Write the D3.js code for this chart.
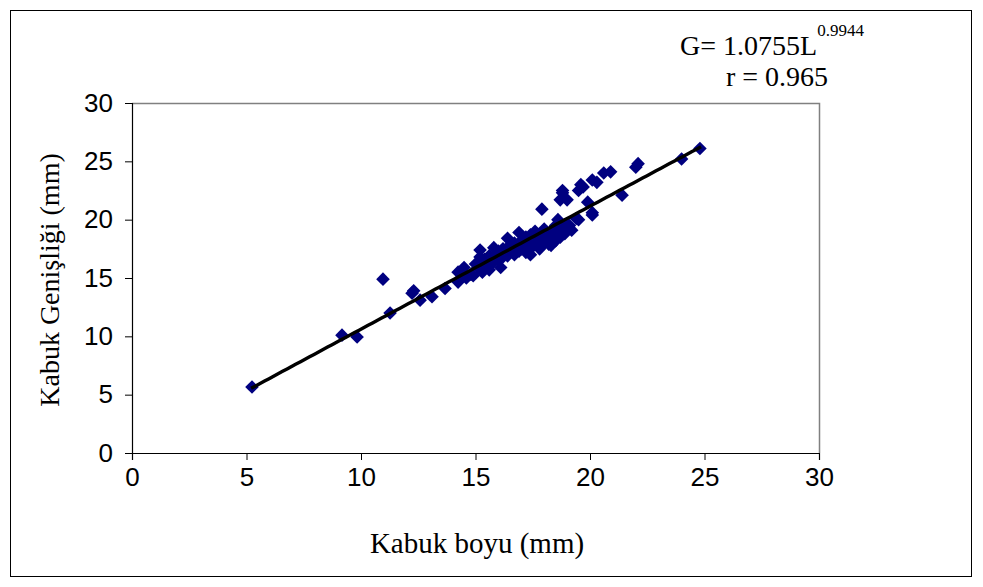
<!DOCTYPE html>
<html>
<head>
<meta charset="utf-8">
<script src="https://cdn.jsdelivr.net/npm/d3@7"></script>
<style>
  html, body { margin: 0; padding: 0; background: #fff; }
  svg { display: block; }
</style>
</head>
<body>
<svg id="chart" width="983" height="587"></svg>
<script>
// ---- data ----
const lengths = [
  5.24, 9.17, 9.83, 10.96, 11.27, 12.23, 12.3, 12.58, 13.1, 13.67, 14.24, 14.24,
  14.4, 14.5, 14.6, 14.8, 14.9, 15.0, 15.1, 15.2, 15.2, 15.3, 15.3, 15.4, 15.5,
  15.6, 15.6, 15.7, 15.8, 15.8, 15.9, 16.0, 16.0, 16.1, 16.2, 16.2, 16.3, 16.4,
  16.4, 16.5, 16.5, 16.6, 16.7, 16.7, 16.8, 16.9, 16.9, 17.0, 17.0, 17.1, 17.2,
  17.2, 17.3, 17.4, 17.4, 17.5, 17.5, 17.6, 17.7, 17.8, 17.8, 17.9, 18.0, 18.0,
  18.1, 18.2, 18.3, 18.3, 18.4, 18.5, 18.5, 18.6, 18.6, 18.7, 18.8, 18.9, 19.0,
  19.1, 19.2, 19.4, 19.5,
  17.9, 18.7, 18.8, 18.8, 19.0, 19.5, 19.6, 19.7, 19.9, 20.1, 20.1, 20.1, 20.3,
  20.6, 20.9, 21.4, 22.0, 22.1, 24.0, 24.8
];
const widths = [
  5.66, 10.1, 9.94, 14.9, 12.0, 13.7, 13.9, 13.1, 13.4, 14.1, 15.5, 14.65,
  15.2, 15.9, 15.0, 15.3, 15.2, 16.2, 15.9, 16.8, 17.4, 15.5, 16.3, 16.6, 16.0,
  15.7, 16.9, 16.2, 17.6, 16.5, 17.0, 16.6, 17.3, 15.9, 16.8, 17.5, 17.1, 18.4,
  16.9, 17.8, 17.2, 17.4, 18.0, 17.0, 17.6, 18.9, 17.3, 18.2, 17.5, 17.8, 18.5,
  17.2, 18.0, 17.0, 18.7, 17.7, 18.3, 19.0, 17.9, 18.5, 17.5, 18.2, 19.2, 18.0,
  18.7, 17.9, 17.8, 19.0, 18.4, 19.5, 18.2, 18.9, 20.0, 18.5, 19.3, 18.8, 19.6,
  19.5, 19.1, 20.1, 20.0,
  20.9, 21.7, 22.3, 22.5, 21.7, 22.5, 23.0, 22.8, 21.5, 20.6, 20.4, 23.4, 23.2,
  24.0, 24.1, 22.1, 24.5, 24.8, 25.2, 26.1
];
const xTicks = [0, 5, 10, 15, 20, 25, 30];
const yTicks = [0, 5, 10, 15, 20, 25, 30];
const fitA = 1.0755, fitB = 0.9944;          // printed power-law fit
const fitRange = [5.2, 24.85];
const xTitle = "Kabuk boyu (mm)";
const yTitle = "Kabuk Genişliği (mm)";

// ---- layout ----
const svg = d3.select("#chart");
const L = 132, R = 819, T = 103, B = 453;
const x = d3.scaleLinear().domain([0, 30]).range([L, R]);
const y = d3.scaleLinear().domain([0, 30]).range([B, T]);

// outer border
svg.append("rect").attr("x", 10.5).attr("y", 10.5).attr("width", 961).attr("height", 566)
  .attr("fill", "none").attr("stroke", "#000").attr("stroke-width", 1);

// plot area border (gray top/right)
svg.append("path")
  .attr("d", `M${L},${T + 0.5}H${R + 0.5}V${B}`)
  .attr("fill", "none").attr("stroke", "#808080").attr("stroke-width", 1.5);

// axes
const xAxis = svg.append("g").attr("transform", `translate(0,${B})`)
  .call(d3.axisBottom(x).tickValues(xTicks).tickSize(7).tickPadding(8).tickFormat(d3.format("d")));
const yAxis = svg.append("g").attr("transform", `translate(${L},0)`)
  .call(d3.axisLeft(y).tickValues(yTicks).tickSize(7).tickPadding(12).tickFormat(d3.format("d")));
[xAxis, yAxis].forEach(g => {
  g.selectAll("path.domain").attr("stroke", "#000").attr("stroke-width", 1.2);
  g.selectAll(".tick line").attr("stroke", "#000").attr("stroke-width", 1);
  g.selectAll(".tick text").attr("fill", "#000")
    .style("font-family", "'Liberation Sans', Arial, sans-serif").style("font-size", "26px");
});

// trend line
const fitPts = d3.range(0, 101).map(i => {
  const xv = fitRange[0] + (fitRange[1] - fitRange[0]) * i / 100;
  return [xv, fitA * Math.pow(xv, fitB)];
});

// points (diamonds)
const pts = lengths.map((v, i) => [v, widths[i]]);
svg.append("g").selectAll("path").data(pts).join("path")
  .attr("transform", d => `translate(${x(d[0])},${y(d[1])})`)
  .attr("d", "M0,-6.8L6.8,0L0,6.8L-6.8,0Z")
  .attr("fill", "#000080");

svg.append("path").datum(fitPts)
  .attr("d", d3.line().x(d => x(d[0])).y(d => y(d[1])))
  .attr("fill", "none").attr("stroke", "#000").attr("stroke-width", 3.4);

// axis titles
const serif = "'Liberation Serif', 'Times New Roman', serif";
svg.append("text").attr("x", 477).attr("y", 553)
  .attr("text-anchor", "middle").style("font-family", serif).style("font-size", "29px")
  .text(xTitle);
svg.append("text").attr("transform", `translate(59,280) rotate(-90)`)
  .attr("text-anchor", "middle").style("font-family", serif).style("font-size", "28px")
  .text(yTitle);

// equation
const eq = svg.append("text").attr("x", 680).attr("y", 55)
  .style("font-family", serif).style("font-size", "28px");
eq.append("tspan").text("G= 1.0755L");
eq.append("tspan").attr("dy", -19).style("font-size", "17px").text("0.9944");
svg.append("text").attr("x", 726).attr("y", 86)
  .style("font-family", serif).style("font-size", "28px").text("r = 0.965");
</script>
</body>
</html>
